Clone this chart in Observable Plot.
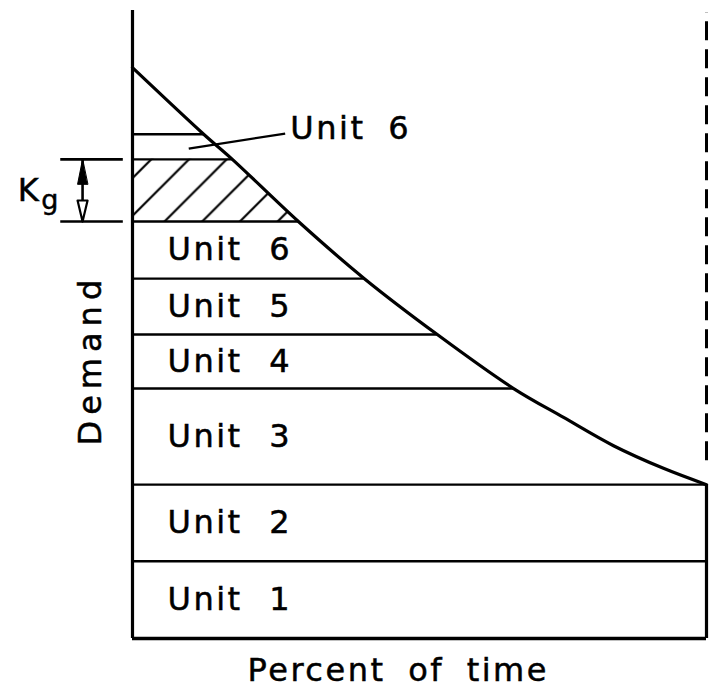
<!DOCTYPE html>
<html><head><meta charset="utf-8">
<script src="https://cdn.jsdelivr.net/npm/d3@7"></script>
<script src="https://cdn.jsdelivr.net/npm/@observablehq/plot@0.6"></script>
<style>
html,body{margin:0;padding:0;background:#fff;}
#chart text{letter-spacing:2.5px;word-spacing:10px;stroke:black;stroke-width:0.5px;}
</style></head><body><div id="chart"></div>
<script>
// Load duration curve (percent of time vs demand)
const curveTime   = [0, 12.4, 17.4, 28.9, 40.4, 53.1, 66.4, 75.1, 83.8, 92.5, 100];
const curveDemand = [90.9, 80.3, 76.3, 66.4, 57.3, 48.4, 39.8, 35.2, 30.7, 27.1, 24.5];
// Loading order blocks
const unitNumbers = ["1", "2", "3", "4", "5", "6"];
const unitTops    = [12.3, 24.5, 39.8, 48.4, 57.3, 66.4];
const unitTopTime = [100, 100, 66.4, 53.1, 40.4, 28.9];
// Kg block (hatched) and peak Unit 6 slice
const kgTop = 76.3, kgTopTime = 17.4;
const peakTop = 80.3, peakTopTime = 12.4;
const unitWord = "Unit";
const peakLabel = "Unit 6";
const kgMain = "K", kgSub = "g";
const xLabel = "Percent of time";
const yLabel = "Demand";

const curve = curveTime.map((t, i) => ({t, d: curveDemand[i]}));
const bands = unitNumbers.map((n, i) => ({n, lo: i ? unitTops[i - 1] : 0, hi: unitTops[i]}));
const levels = unitTops.map((d, i) => ({d, t: unitTopTime[i]}))
  .concat([{d: kgTop, t: kgTopTime}, {d: peakTop, t: peakTopTime}]);
const kgBottom = unitTops[5];
const hatchRegion = [{d: kgTop, t: kgTopTime}, {d: kgBottom, t: unitTopTime[5]}];

const FS = 32;
const headShape = {
  draw(context, l, r) {
    context.moveTo(0, -l);
    context.lineTo(-r, 0);
    context.lineTo(r, 0);
    context.closePath();
  }
};

const svg = Plot.plot({
  width: 711, height: 693,
  marginLeft: 132, marginRight: 5, marginTop: 10, marginBottom: 55,
  x: {domain: [0, 100], axis: null},
  y: {domain: [0, 100], axis: null},
  style: {fontFamily: "DejaVu Sans", background: "white", color: "black"},
  marks: [
    Plot.areaX(hatchRegion, {y: "d", x1: () => 0, x2: "t", fill: "url(#hatch)"}),
    Plot.ruleY(levels, {y: "d", x1: () => 0, x2: "t", strokeWidth: 2.4}),
    Plot.ruleX([0], {y1: () => 0, y2: () => 100, strokeWidth: 3.2}),
    Plot.ruleY([0], {x1: () => 0, x2: () => 100, strokeWidth: 3.5}),
    Plot.ruleX([100], {y1: () => 0, y2: () => unitTops[1], strokeWidth: 3.2}),
    Plot.ruleX([100], {y1: () => 28.3, y2: () => 99.7, strokeWidth: 3, strokeDasharray: "19,9"}),
    Plot.line(curve, {x: "t", y: "d", curve: "catmull-rom", strokeWidth: 3.2}),
    // Kg dimension marker
    Plot.ruleY([kgBottom, kgTop], {x1: () => -12.5, x2: () => -1.6, strokeWidth: 2.6}),
    Plot.ruleX([-8.7], {y1: () => kgBottom, y2: () => kgTop, strokeWidth: 2.6}),
    Plot.vector([kgTop], {x: () => -8.7, y: d => d, length: 25, r: 5, rotate: 0, anchor: "end",
      shape: headShape, fill: "black", stroke: "black", strokeWidth: 1}),
    Plot.vector([kgBottom], {x: () => -8.7, y: d => d, length: 21, r: 5, rotate: 180, anchor: "end",
      shape: headShape, fill: "white", stroke: "black", strokeWidth: 2.2}),
    Plot.text([kgMain], {x: () => -20.0, y: () => (kgTop + kgBottom) / 2, text: d => d,
      textAnchor: "start", fontSize: FS}),
    Plot.text([kgSub], {x: () => -15.9, y: () => (kgTop + kgBottom) / 2, text: d => d,
      textAnchor: "start", fontSize: 27, dy: 10}),
    // Unit labels
    Plot.text(bands, {x: () => 6.1, y: d => (d.lo + d.hi) / 2, text: () => unitWord,
      textAnchor: "start", fontSize: FS}),
    Plot.text(bands, {x: () => 25.8, y: d => (d.lo + d.hi) / 2, text: "n",
      textAnchor: "middle", fontSize: FS}),
    // Peak Unit 6 callout
    Plot.link([peakLabel], {x1: () => 9.8, y1: () => 78.0, x2: () => 26.6, y2: () => 80.4, strokeWidth: 2.2}),
    Plot.text([peakLabel], {x: () => 27.5, y: () => 81.2, text: d => d, textAnchor: "start", fontSize: FS}),
    // Axis titles
    Plot.text([yLabel], {x: () => -7.3, y: () => 44.4, text: d => d, rotate: -90, fontSize: FS}),
    Plot.text([xLabel], {x: () => 46.3, y: () => -5.1, text: d => d, fontSize: FS})
  ]
});

// Wider tracking for the rotated axis title
d3.select(svg).selectAll("text").filter(function () { return this.textContent === yLabel; })
  .style("letter-spacing", "6px");

// Hatch pattern aligned through the scales
const S = 37.7;
const ax = svg.scale("x").apply(5.75), ay = svg.scale("y").apply(kgBottom);
const off = ((ax + ay) % S + S) % S;
const defs = d3.select(svg).insert("defs", ":first-child");
const pat = defs.append("pattern").attr("id", "hatch").attr("patternUnits", "userSpaceOnUse")
  .attr("width", S).attr("height", S).attr("x", off).attr("y", 0);
pat.append("path")
  .attr("d", `M0,${S}L${S},0M-2,2L2,-2M${S-2},${S+2}L${S+2},${S-2}`)
  .attr("stroke", "black").attr("stroke-width", 2.2).attr("fill", "none");

document.getElementById("chart").appendChild(svg);
</script></body></html>
